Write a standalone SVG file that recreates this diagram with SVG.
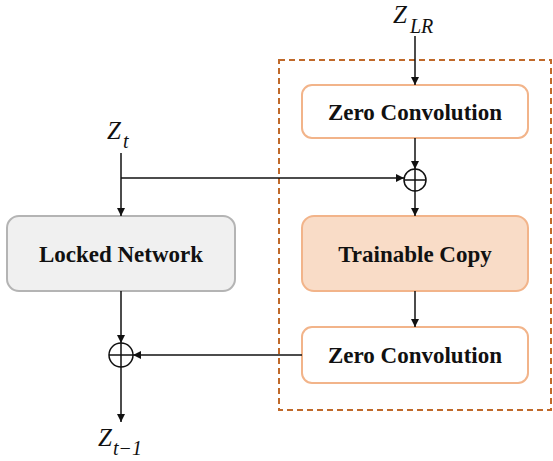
<svg xmlns="http://www.w3.org/2000/svg" width="553" height="461" viewBox="0 0 553 461">
<style>
.lbl{font-family:'Liberation Serif','DejaVu Serif','Times New Roman',serif;font-weight:bold;font-size:23px;fill:#111;text-anchor:middle}
.var{font-family:'Liberation Serif','DejaVu Serif','Times New Roman',serif;font-style:italic;fill:#111}
.ln{stroke:#111;stroke-width:1.5;fill:none}
.orange{fill:#fff;stroke:#f2b48a;stroke-width:2}
</style>
<defs>
<marker id="ah" viewBox="0 0 10 10" refX="10" refY="5" markerWidth="8" markerHeight="8" markerUnits="userSpaceOnUse" orient="auto">
<path d="M0,0 L10,5 L0,10 z" fill="#111"/>
</marker>
</defs>
<rect width="553" height="461" fill="#fff"/>
<g id="trainable-box">
<rect x="279" y="60" width="272" height="350" fill="none" stroke="#c0692a" stroke-width="2" stroke-dasharray="6 4"/>
</g>
<g id="zero-conv-top">
<rect class="orange" x="302" y="85" width="226" height="53" rx="10"/>
<text class="lbl" x="415" y="120">Zero Convolution</text>
</g>
<g id="trainable-copy">
<rect x="302" y="216" width="226" height="75" rx="12" fill="#f9dcc7" stroke="#f2b48a" stroke-width="2"/>
<text class="lbl" x="415" y="262">Trainable Copy</text>
</g>
<g id="zero-conv-bottom">
<rect class="orange" x="302" y="327" width="226" height="56" rx="10"/>
<text class="lbl" x="415" y="363">Zero Convolution</text>
</g>
<g id="locked-network">
<rect x="7" y="216" width="228" height="75" rx="12" fill="#f0f0f0" stroke="#b4b4b4" stroke-width="2"/>
<text class="lbl" x="121" y="262">Locked Network</text>
</g>
<g id="sum-top">
<circle cx="415" cy="180" r="11" class="ln"/>
<line x1="404" y1="180" x2="426" y2="180" class="ln"/>
<line x1="415" y1="169" x2="415" y2="191" class="ln"/>
</g>
<g id="sum-bottom">
<circle cx="121" cy="355" r="12" class="ln"/>
<line x1="109" y1="355" x2="133" y2="355" class="ln"/>
<line x1="121" y1="343" x2="121" y2="367" class="ln"/>
</g>
<g id="z-lr">
<text class="var" x="393" y="23" font-size="25">Z</text>
<text class="var" x="410" y="33" font-size="20">LR</text>
</g>
<g id="z-t">
<text class="var" x="107" y="139" font-size="25">Z</text>
<text class="var" x="123" y="148" font-size="20">t</text>
</g>
<g id="z-t-1">
<text class="var" x="98" y="446" font-size="25">Z</text>
<text class="var" x="113" y="455" font-size="20">t−1</text>
</g>
<g id="connectors">
<line x1="415" y1="36" x2="415" y2="85" class="ln" marker-end="url(#ah)"/>
<line x1="415" y1="138" x2="415" y2="169" class="ln" marker-end="url(#ah)"/>
<line x1="121" y1="178" x2="404" y2="178" class="ln" marker-end="url(#ah)"/>
<line x1="415" y1="191" x2="415" y2="216" class="ln" marker-end="url(#ah)"/>
<line x1="121" y1="153" x2="121" y2="216" class="ln" marker-end="url(#ah)"/>
<line x1="415" y1="291" x2="415" y2="327" class="ln" marker-end="url(#ah)"/>
<line x1="121" y1="291" x2="121" y2="343" class="ln" marker-end="url(#ah)"/>
<line x1="302" y1="355" x2="133" y2="355" class="ln" marker-end="url(#ah)"/>
<line x1="121" y1="367" x2="121" y2="422" class="ln" marker-end="url(#ah)"/>
</g>
</svg>
